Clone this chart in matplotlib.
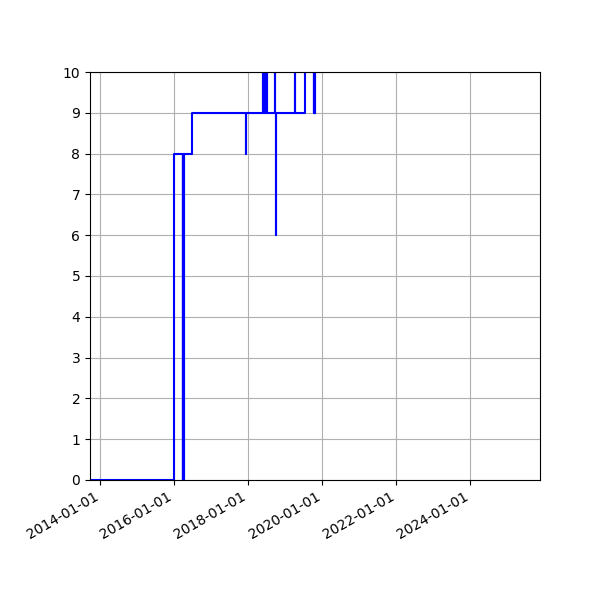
import matplotlib
matplotlib.use("Agg")
import matplotlib.pyplot as plt
import matplotlib.dates as mdates
import pandas as pd

# change points of the step series (value holds until the next date)
dates = [
    "2013-09-20", "2015-12-30",
    "2016-03-22", "2016-03-24", "2016-03-28", "2016-03-30", "2016-04-03", "2016-04-05",
    "2016-06-25",
    "2017-12-08", "2017-12-10",
    "2018-05-26", "2018-05-29", "2018-06-04", "2018-06-07", "2018-06-13", "2018-06-16",
    "2018-06-22", "2018-06-25", "2018-07-01", "2018-07-04",
    "2018-09-20", "2018-09-23", "2018-09-28", "2018-10-01",
    "2019-04-05", "2019-04-08",
    "2019-07-14",
    "2019-10-10", "2019-10-12", "2019-10-15", "2019-10-17", "2019-10-20",
]
values = [
    0, 8,
    0, 8, 0, 8, 0, 8,
    9,
    8, 9,
    11, 9, 11, 9, 11, 9,
    11, 9, 11, 9,
    11, 9, 6, 9,
    11, 9,
    11,
    9, 11, 9, 11, 9,
]

x = pd.to_datetime(dates)

fig, ax = plt.subplots(figsize=(6, 6), dpi=100)
ax.plot(x, values, drawstyle="steps-post", color="b")
ax.set_ylim(0, 10)
ax.set_yticks(range(11))
ax.set_xlim(pd.Timestamp("2013-09-20"), pd.Timestamp("2025-11-18"))
ax.xaxis.set_major_locator(mdates.YearLocator(2))
ax.xaxis.set_major_formatter(mdates.DateFormatter("%Y-%m-%d"))
ax.grid(True)
fig.autofmt_xdate()
fig.subplots_adjust(left=0.15, right=0.9, top=0.88)
fig.savefig("out.png")
